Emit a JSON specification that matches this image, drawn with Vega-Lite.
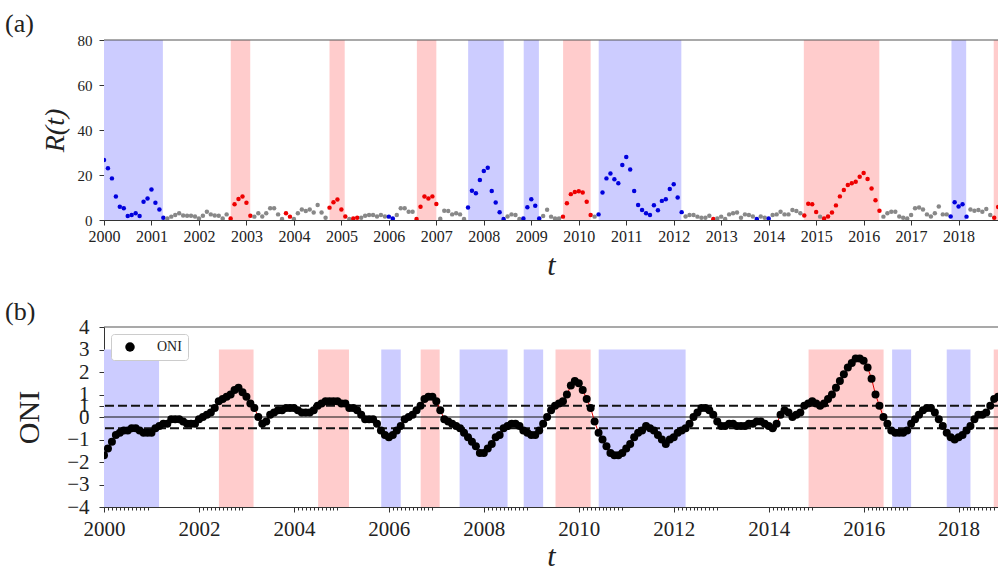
{
  "$schema": "https://vega.github.io/schema/vega-lite/v6.json",
  "background": "white",
  "padding": {"left": 5, "top": 11, "right": 0, "bottom": 0},
  "spacing": 19,
  "resolve": {"scale": {"color": "independent"}, "legend": {"color": "independent"}},
  "config": {
    "view": {"stroke": null},
    "font": "Liberation Serif",
    "axis": {
      "labelFont": "Liberation Serif",
      "titleFont": "Liberation Serif",
      "labelColor": "#222222",
      "titleColor": "#222222",
      "domainColor": "#333333",
      "tickColor": "#333333",
      "grid": false,
      "titleFontWeight": "normal",
      "labelFlush": false,
      "labelOverlap": false
    },
    "title": {"font": "Liberation Serif", "fontWeight": "normal", "color": "#222222", "fontSize": 26, "anchor": "start", "frame": "group", "dx": -99, "offset": -4}
  },
  "datasets": {
    "months": [
      {"t":2000,"R":26.7,"p":"L","o":-1.7},{"t":2000.083,"R":23.0,"p":"L","o":-1.4},{"t":2000.167,"R":18.5,"p":"L","o":-1.1},{"t":2000.25,"R":10.4,"p":"L","o":-0.8},{"t":2000.333,"R":5.9,"p":"L","o":-0.7},{"t":2000.417,"R":5.2,"p":"L","o":-0.6},{"t":2000.5,"R":1.8,"p":"L","o":-0.6},{"t":2000.583,"R":2.2,"p":"L","o":-0.5},{"t":2000.667,"R":3.0,"p":"L","o":-0.5},{"t":2000.75,"R":1.8,"p":"L","o":-0.6},{"t":2000.833,"R":8.1,"p":"L","o":-0.7},{"t":2000.917,"R":9.6,"p":"L","o":-0.7},
      {"t":2001,"R":13.6,"p":"L","o":-0.7},{"t":2001.083,"R":7.7,"p":"L","o":-0.5},{"t":2001.167,"R":4.7,"p":"L","o":-0.4},{"t":2001.25,"R":1.0,"p":"L","o":-0.3},{"t":2001.333,"R":0.7,"p":"N","o":-0.3},{"t":2001.417,"R":1.5,"p":"N","o":-0.1},{"t":2001.5,"R":2.2,"p":"N","o":-0.1},{"t":2001.583,"R":3.0,"p":"N","o":-0.1},{"t":2001.667,"R":2.0,"p":"N","o":-0.2},{"t":2001.75,"R":1.9,"p":"N","o":-0.3},{"t":2001.833,"R":1.9,"p":"N","o":-0.3},{"t":2001.917,"R":1.6,"p":"N","o":-0.3},
      {"t":2002,"R":0.7,"p":"N","o":-0.1},{"t":2002.083,"R":1.9,"p":"N","o":0.0},{"t":2002.167,"R":3.7,"p":"N","o":0.1},{"t":2002.25,"R":2.5,"p":"N","o":0.2},{"t":2002.333,"R":2.0,"p":"N","o":0.4},{"t":2002.417,"R":1.9,"p":"N","o":0.7},{"t":2002.5,"R":0.7,"p":"N","o":0.8},{"t":2002.583,"R":2.5,"p":"N","o":0.9},{"t":2002.667,"R":0.7,"p":"E","o":1.0},{"t":2002.75,"R":7.0,"p":"E","o":1.2},{"t":2002.833,"R":9.3,"p":"E","o":1.3},{"t":2002.917,"R":10.4,"p":"E","o":1.1},
      {"t":2003,"R":7.7,"p":"E","o":0.9},{"t":2003.083,"R":1.9,"p":"E","o":0.6},{"t":2003.167,"R":1.5,"p":"N","o":0.4},{"t":2003.25,"R":3.0,"p":"N","o":0.0},{"t":2003.333,"R":1.6,"p":"N","o":-0.3},{"t":2003.417,"R":3.0,"p":"N","o":-0.2},{"t":2003.5,"R":5.2,"p":"N","o":0.1},{"t":2003.583,"R":5.2,"p":"N","o":0.2},{"t":2003.667,"R":2.5,"p":"N","o":0.3},{"t":2003.75,"R":0.4,"p":"N","o":0.3},{"t":2003.833,"R":3.0,"p":"E","o":0.4},{"t":2003.917,"R":1.5,"p":"E","o":0.4},
      {"t":2004,"R":0.4,"p":"N","o":0.4},{"t":2004.083,"R":3.0,"p":"N","o":0.3},{"t":2004.167,"R":4.7,"p":"N","o":0.2},{"t":2004.25,"R":4.0,"p":"N","o":0.2},{"t":2004.333,"R":4.7,"p":"N","o":0.2},{"t":2004.417,"R":3.3,"p":"N","o":0.3},{"t":2004.5,"R":6.7,"p":"N","o":0.5},{"t":2004.583,"R":3.3,"p":"N","o":0.6},{"t":2004.667,"R":1.0,"p":"N","o":0.7},{"t":2004.75,"R":5.5,"p":"E","o":0.7},{"t":2004.833,"R":7.9,"p":"E","o":0.7},{"t":2004.917,"R":9.1,"p":"E","o":0.7},
      {"t":2005,"R":4.7,"p":"E","o":0.6},{"t":2005.083,"R":1.6,"p":"E","o":0.6},{"t":2005.167,"R":0.4,"p":"N","o":0.4},{"t":2005.25,"R":0.7,"p":"E","o":0.4},{"t":2005.333,"R":1.0,"p":"E","o":0.3},{"t":2005.417,"R":1.0,"p":"N","o":0.1},{"t":2005.5,"R":1.9,"p":"N","o":-0.1},{"t":2005.583,"R":2.2,"p":"N","o":-0.1},{"t":2005.667,"R":2.2,"p":"N","o":-0.1},{"t":2005.75,"R":1.6,"p":"N","o":-0.3},{"t":2005.833,"R":2.2,"p":"N","o":-0.6},{"t":2005.917,"R":1.6,"p":"N","o":-0.8},
      {"t":2006,"R":1.5,"p":"L","o":-0.9},{"t":2006.083,"R":0.7,"p":"L","o":-0.8},{"t":2006.167,"R":2.2,"p":"N","o":-0.6},{"t":2006.25,"R":5.2,"p":"N","o":-0.4},{"t":2006.333,"R":5.2,"p":"N","o":-0.1},{"t":2006.417,"R":3.7,"p":"N","o":0.0},{"t":2006.5,"R":3.7,"p":"N","o":0.1},{"t":2006.583,"R":0.5,"p":"E","o":0.3},{"t":2006.667,"R":5.9,"p":"E","o":0.5},{"t":2006.75,"R":10.4,"p":"E","o":0.8},{"t":2006.833,"R":9.6,"p":"E","o":0.9},{"t":2006.917,"R":10.5,"p":"E","o":0.9},
      {"t":2007,"R":7.1,"p":"E","o":0.7},{"t":2007.083,"R":0.6,"p":"N","o":0.3},{"t":2007.167,"R":4.1,"p":"N","o":-0.1},{"t":2007.25,"R":4.0,"p":"N","o":-0.2},{"t":2007.333,"R":2.5,"p":"N","o":-0.3},{"t":2007.417,"R":3.0,"p":"N","o":-0.4},{"t":2007.5,"R":2.5,"p":"N","o":-0.5},{"t":2007.583,"R":0.4,"p":"N","o":-0.7},{"t":2007.667,"R":5.6,"p":"L","o":-0.9},{"t":2007.75,"R":13.0,"p":"L","o":-1.1},{"t":2007.833,"R":11.9,"p":"L","o":-1.3},{"t":2007.917,"R":17.8,"p":"L","o":-1.6},
      {"t":2008,"R":21.8,"p":"L","o":-1.6},{"t":2008.083,"R":23.2,"p":"L","o":-1.4},{"t":2008.167,"R":12.9,"p":"L","o":-1.2},{"t":2008.25,"R":7.8,"p":"L","o":-0.9},{"t":2008.333,"R":3.4,"p":"L","o":-0.8},{"t":2008.417,"R":0.4,"p":"L","o":-0.5},{"t":2008.5,"R":1.6,"p":"N","o":-0.4},{"t":2008.583,"R":2.5,"p":"N","o":-0.3},{"t":2008.667,"R":2.2,"p":"N","o":-0.3},{"t":2008.75,"R":0.4,"p":"N","o":-0.4},{"t":2008.833,"R":0.7,"p":"L","o":-0.6},{"t":2008.917,"R":5.7,"p":"L","o":-0.7},
      {"t":2009,"R":9.2,"p":"L","o":-0.8},{"t":2009.083,"R":6.3,"p":"L","o":-0.8},{"t":2009.167,"R":0.7,"p":"L","o":-0.6},{"t":2009.25,"R":1.8,"p":"N","o":-0.3},{"t":2009.333,"R":4.6,"p":"N","o":0.0},{"t":2009.417,"R":1.5,"p":"N","o":0.3},{"t":2009.5,"R":0.7,"p":"N","o":0.5},{"t":2009.583,"R":0.7,"p":"N","o":0.6},{"t":2009.667,"R":1.5,"p":"E","o":0.7},{"t":2009.75,"R":7.4,"p":"E","o":1.0},{"t":2009.833,"R":11.5,"p":"E","o":1.4},{"t":2009.917,"R":12.4,"p":"E","o":1.6},
      {"t":2010,"R":12.8,"p":"E","o":1.5},{"t":2010.083,"R":12.2,"p":"E","o":1.2},{"t":2010.167,"R":8.1,"p":"E","o":0.8},{"t":2010.25,"R":2.2,"p":"E","o":0.4},{"t":2010.333,"R":1.5,"p":"N","o":-0.2},{"t":2010.417,"R":2.5,"p":"L","o":-0.7},{"t":2010.5,"R":12.2,"p":"L","o":-1.0},{"t":2010.583,"R":18.5,"p":"L","o":-1.3},{"t":2010.667,"R":20.7,"p":"L","o":-1.6},{"t":2010.75,"R":18.1,"p":"L","o":-1.7},{"t":2010.833,"R":16.3,"p":"L","o":-1.7},{"t":2010.917,"R":24.4,"p":"L","o":-1.6},
      {"t":2011,"R":28.0,"p":"L","o":-1.4},{"t":2011.083,"R":22.4,"p":"L","o":-1.2},{"t":2011.167,"R":12.9,"p":"L","o":-0.9},{"t":2011.25,"R":6.7,"p":"L","o":-0.7},{"t":2011.333,"R":4.4,"p":"L","o":-0.6},{"t":2011.417,"R":3.0,"p":"L","o":-0.4},{"t":2011.5,"R":2.2,"p":"L","o":-0.5},{"t":2011.583,"R":6.6,"p":"L","o":-0.6},{"t":2011.667,"R":4.3,"p":"L","o":-0.8},{"t":2011.75,"R":8.5,"p":"L","o":-1.0},{"t":2011.833,"R":9.2,"p":"L","o":-1.2},{"t":2011.917,"R":13.8,"p":"L","o":-1.0},
      {"t":2012,"R":15.9,"p":"L","o":-0.9},{"t":2012.083,"R":10.0,"p":"L","o":-0.7},{"t":2012.167,"R":3.5,"p":"L","o":-0.6},{"t":2012.25,"R":1.6,"p":"N","o":-0.5},{"t":2012.333,"R":2.2,"p":"N","o":-0.3},{"t":2012.417,"R":2.2,"p":"N","o":0.0},{"t":2012.5,"R":1.5,"p":"N","o":0.2},{"t":2012.583,"R":1.0,"p":"N","o":0.4},{"t":2012.667,"R":1.0,"p":"N","o":0.4},{"t":2012.75,"R":1.9,"p":"N","o":0.3},{"t":2012.833,"R":0.4,"p":"E","o":0.1},{"t":2012.917,"R":0.7,"p":"N","o":-0.2},
      {"t":2013,"R":1.5,"p":"N","o":-0.4},{"t":2013.083,"R":0.4,"p":"N","o":-0.4},{"t":2013.167,"R":2.5,"p":"N","o":-0.3},{"t":2013.25,"R":3.0,"p":"N","o":-0.3},{"t":2013.333,"R":3.3,"p":"N","o":-0.4},{"t":2013.417,"R":1.0,"p":"N","o":-0.4},{"t":2013.5,"R":2.5,"p":"N","o":-0.4},{"t":2013.583,"R":2.2,"p":"N","o":-0.3},{"t":2013.667,"R":1.6,"p":"N","o":-0.3},{"t":2013.75,"R":0.4,"p":"L","o":-0.2},{"t":2013.833,"R":1.6,"p":"N","o":-0.2},{"t":2013.917,"R":1.0,"p":"N","o":-0.3},
      {"t":2014,"R":0.7,"p":"L","o":-0.4},{"t":2014.083,"R":2.2,"p":"N","o":-0.5},{"t":2014.167,"R":2.5,"p":"N","o":-0.3},{"t":2014.25,"R":3.7,"p":"N","o":0.1},{"t":2014.333,"R":2.5,"p":"N","o":0.3},{"t":2014.417,"R":2.5,"p":"N","o":0.2},{"t":2014.5,"R":4.4,"p":"N","o":0.0},{"t":2014.583,"R":4.0,"p":"N","o":0.1},{"t":2014.667,"R":3.0,"p":"N","o":0.2},{"t":2014.75,"R":2.0,"p":"E","o":0.5},{"t":2014.833,"R":7.2,"p":"E","o":0.6},{"t":2014.917,"R":7.0,"p":"E","o":0.7},
      {"t":2015,"R":3.6,"p":"E","o":0.6},{"t":2015.083,"R":1.5,"p":"N","o":0.5},{"t":2015.167,"R":0.7,"p":"E","o":0.6},{"t":2015.25,"R":1.6,"p":"E","o":0.8},{"t":2015.333,"R":3.3,"p":"E","o":1.0},{"t":2015.417,"R":6.5,"p":"E","o":1.3},{"t":2015.5,"R":10.5,"p":"E","o":1.6},{"t":2015.583,"R":13.3,"p":"E","o":1.9},{"t":2015.667,"R":15.6,"p":"E","o":2.2},{"t":2015.75,"R":16.3,"p":"E","o":2.4},{"t":2015.833,"R":17.0,"p":"E","o":2.6},{"t":2015.917,"R":19.2,"p":"E","o":2.6},
      {"t":2016,"R":20.9,"p":"E","o":2.5},{"t":2016.083,"R":18.2,"p":"E","o":2.2},{"t":2016.167,"R":14.0,"p":"E","o":1.7},{"t":2016.25,"R":8.8,"p":"E","o":1.0},{"t":2016.333,"R":4.1,"p":"E","o":0.5},{"t":2016.417,"R":1.5,"p":"N","o":0.0},{"t":2016.5,"R":3.0,"p":"N","o":-0.3},{"t":2016.583,"R":3.7,"p":"N","o":-0.6},{"t":2016.667,"R":3.7,"p":"N","o":-0.7},{"t":2016.75,"R":1.6,"p":"N","o":-0.7},{"t":2016.833,"R":1.0,"p":"N","o":-0.7},{"t":2016.917,"R":0.7,"p":"N","o":-0.6},
      {"t":2017,"R":2.2,"p":"N","o":-0.3},{"t":2017.083,"R":5.2,"p":"N","o":-0.1},{"t":2017.167,"R":5.6,"p":"N","o":0.1},{"t":2017.25,"R":4.7,"p":"N","o":0.3},{"t":2017.333,"R":2.5,"p":"N","o":0.4},{"t":2017.417,"R":1.6,"p":"N","o":0.4},{"t":2017.5,"R":3.0,"p":"N","o":0.2},{"t":2017.583,"R":6.0,"p":"N","o":-0.1},{"t":2017.667,"R":2.5,"p":"N","o":-0.4},{"t":2017.75,"R":2.5,"p":"N","o":-0.7},{"t":2017.833,"R":1.6,"p":"L","o":-0.9},{"t":2017.917,"R":7.9,"p":"L","o":-1.0},
      {"t":2018,"R":6.0,"p":"L","o":-0.9},{"t":2018.083,"R":7.0,"p":"L","o":-0.8},{"t":2018.167,"R":1.5,"p":"L","o":-0.6},{"t":2018.25,"R":4.7,"p":"N","o":-0.4},{"t":2018.333,"R":4.1,"p":"N","o":-0.1},{"t":2018.417,"R":4.4,"p":"N","o":0.1},{"t":2018.5,"R":3.7,"p":"N","o":0.1},{"t":2018.583,"R":4.9,"p":"N","o":0.2},{"t":2018.667,"R":2.2,"p":"N","o":0.5},{"t":2018.75,"R":1.0,"p":"E","o":0.8},{"t":2018.833,"R":5.8,"p":"E","o":0.9}
    ],
    "bandsA": [
      {"s":2000,"e":2001.24,"k":"L"},{"s":2002.67,"e":2003.08,"k":"E"},{"s":2004.75,"e":2005.07,"k":"E"},{"s":2006.59,"e":2007.0,"k":"E"},{"s":2007.67,"e":2008.42,"k":"L"},{"s":2008.84,"e":2009.16,"k":"L"},{"s":2009.67,"e":2010.25,"k":"E"},{"s":2010.42,"e":2012.16,"k":"L"},{"s":2014.74,"e":2016.33,"k":"E"},{"s":2017.85,"e":2018.16,"k":"L"},{"s":2018.74,"e":2019,"k":"E"}
    ],
    "bandsB": [
      {"s":2000,"e":2001.16,"k":"L"},{"s":2002.42,"e":2003.15,"k":"E"},{"s":2004.51,"e":2005.16,"k":"E"},{"s":2005.84,"e":2006.25,"k":"L"},{"s":2006.67,"e":2007.07,"k":"E"},{"s":2007.49,"e":2008.5,"k":"L"},{"s":2008.84,"e":2009.25,"k":"L"},{"s":2009.51,"e":2010.25,"k":"E"},{"s":2010.42,"e":2012.25,"k":"L"},{"s":2014.84,"e":2016.42,"k":"E"},{"s":2016.6,"e":2017.0,"k":"L"},{"s":2017.75,"e":2018.25,"k":"L"},{"s":2018.74,"e":2019,"k":"E"}
    ],
    "one": [{"n": 1}]
  },
  "vconcat": [
    {
      "title": {"text": "(a)"},
      "width": 894,
      "height": 180,
      "layer": [
        {
          "data": {"name": "bandsA"},
          "mark": {"type": "rect", "clip": true},
          "encoding": {
            "x": {"field": "s", "type": "quantitative",
                  "scale": {"domain": [2000, 2018.83], "nice": false, "zero": false},
                  "axis": {"values": [2000,2001,2002,2003,2004,2005,2006,2007,2008,2009,2010,2011,2012,2013,2014,2015,2016,2017,2018],
                           "format": "d", "labelFontSize": 16, "labelPadding": 3, "tickSize": 5, "labelOverlap": false,
                           "title": "t", "titleFontSize": 30, "titleFontStyle": "italic", "titlePadding": 6}},
            "x2": {"field": "e"},
            "y": {"datum": 0, "type": "quantitative",
                  "scale": {"domain": [0, 80], "nice": false},
                  "axis": {"values": [0, 20, 40, 60, 80], "labelFontSize": 15, "labelPadding": 7, "tickSize": 5, "labelOverlap": false,
                           "title": "R(t)", "titleFontSize": 28, "titleFontStyle": "italic", "titlePadding": 8}},
            "y2": {"datum": 80},
            "fill": {"field": "k", "type": "nominal",
                     "scale": {"domain": ["L", "E"], "range": ["#ccccff", "#ffcccc"]}, "legend": null}
          }
        },
        {
          "data": {"name": "one"},
          "mark": {"type": "rule", "color": "#555555", "strokeWidth": 1.2},
          "encoding": {"y": {"datum": 80}}
        },
        {
          "data": {"name": "months"},
          "mark": {"type": "circle", "size": 20, "opacity": 1, "clip": true},
          "encoding": {
            "x": {"field": "t", "type": "quantitative"},
            "y": {"field": "R", "type": "quantitative"},
            "color": {"field": "p", "type": "nominal",
                      "scale": {"domain": ["L", "E", "N"], "range": ["#0000dd", "#ee0000", "#888888"]}, "legend": null}
          }
        }
      ]
    },
    {
      "title": {"text": "(b)", "offset": -9},
      "width": 894,
      "height": 180,
      "resolve": {"axis": {"x": "independent", "y": "independent"}},
      "layer": [
        {
          "data": {"name": "bandsB"},
          "mark": {"type": "rect", "clip": true},
          "encoding": {
            "x": {"field": "s", "type": "quantitative",
                  "scale": {"domain": [2000, 2018.83], "nice": false, "zero": false},
                  "axis": {"orient": "bottom", "values": [2000,2002,2004,2006,2008,2010,2012,2014,2016,2018],
                           "format": "d", "labelFontSize": 21, "labelPadding": 6, "tickSize": 5, "labelOverlap": false,
                           "title": "t", "titleFontSize": 30, "titleFontStyle": "italic", "titlePadding": 2}},
            "x2": {"field": "e"},
            "y": {"datum": -4, "type": "quantitative", "scale": {"domain": [-4, 4], "nice": false},
                  "axis": {"orient": "left", "values": [-4, -3, -2, -1, 0, 1, 2, 3, 4], "labelFontSize": 21, "labelPadding": 10,
                           "labelOverlap": false, "labelSeparation": 0,
                           "tickSize": 5, "title": "ONI", "titleFontSize": 30, "titlePadding": 22}},
            "y2": {"datum": 3},
            "fill": {"field": "k", "type": "nominal",
                     "scale": {"domain": ["L", "E"], "range": ["#ccccff", "#ffcccc"]}, "legend": null}
          }
        },
        {
          "data": {"name": "one"},
          "mark": {"type": "rule", "color": "#555555", "strokeWidth": 1.2},
          "encoding": {"y": {"datum": 4, "axis": null}}
        },
        {
          "data": {"name": "one"},
          "mark": {"type": "rule", "color": "#111111", "strokeWidth": 1.2},
          "encoding": {"y": {"datum": 0, "axis": null}}
        },
        {
          "data": {"name": "one"},
          "mark": {"type": "rule", "color": "#111111", "strokeWidth": 2, "strokeDash": [9, 4]},
          "encoding": {"y": {"datum": 0.5,
                             "axis": {"orient": "left", "values": [0.5], "labelFontSize": 21, "labelPadding": 10,
                                      "labelOverlap": false, "domain": false, "tickSize": 5, "title": null}}}
        },
        {
          "data": {"name": "one"},
          "mark": {"type": "rule", "color": "#111111", "strokeWidth": 2, "strokeDash": [9, 4]},
          "encoding": {"y": {"datum": -0.5, "axis": null}}
        },
        {
          "data": {"name": "months"},
          "mark": {"type": "line", "color": "#e00000", "strokeWidth": 1, "clip": true},
          "encoding": {
            "x": {"field": "t", "type": "quantitative",
                  "axis": {"orient": "bottom",
                           "values": [2000.083,2000.167,2000.25,2000.333,2000.417,2000.5,2000.583,2000.667,2000.75,2000.833,2000.917,
                                      2002.083,2002.167,2002.25,2002.333,2002.417,2002.5,2002.583,2002.667,2002.75,2002.833,2002.917,
                                      2004.083,2004.167,2004.25,2004.333,2004.417,2004.5,2004.583,2004.667,2004.75,2004.833,2004.917,
                                      2006.083,2006.167,2006.25,2006.333,2006.417,2006.5,2006.583,2006.667,2006.75,2006.833,2006.917,
                                      2008.083,2008.167,2008.25,2008.333,2008.417,2008.5,2008.583,2008.667,2008.75,2008.833,2008.917,
                                      2010.083,2010.167,2010.25,2010.333,2010.417,2010.5,2010.583,2010.667,2010.75,2010.833,2010.917,
                                      2012.083,2012.167,2012.25,2012.333,2012.417,2012.5,2012.583,2012.667,2012.75,2012.833,2012.917,
                                      2014.083,2014.167,2014.25,2014.333,2014.417,2014.5,2014.583,2014.667,2014.75,2014.833,2014.917,
                                      2016.083,2016.167,2016.25,2016.333,2016.417,2016.5,2016.583,2016.667,2016.75,2016.833,2016.917,
                                      2018.083,2018.167,2018.25,2018.333,2018.417,2018.5,2018.583,2018.667,2018.75],
                           "labels": false, "domain": false, "tickSize": 3, "title": null}},
            "y": {"field": "o", "type": "quantitative", "axis": null}
          }
        },
        {
          "data": {"name": "months"},
          "mark": {"type": "circle", "size": 64, "opacity": 1, "clip": true},
          "encoding": {
            "x": {"field": "t", "type": "quantitative", "axis": null},
            "y": {"field": "o", "type": "quantitative", "axis": null},
            "color": {"datum": "ONI", "type": "nominal", "scale": {"domain": ["ONI"], "range": ["#000000"]},
                      "legend": {"orient": "top-left", "offset": 7, "title": null, "fillColor": "white",
                                 "strokeColor": "#cccccc", "cornerRadius": 3, "padding": 6, "symbolOffset": 6,
                                 "symbolType": "circle", "symbolSize": 90, "symbolStrokeWidth": 0,
                                 "labelFont": "Liberation Serif", "labelFontSize": 14, "labelOffset": 20, "labelColor": "#222222"}}
          }
        }
      ]
    }
  ]
}
